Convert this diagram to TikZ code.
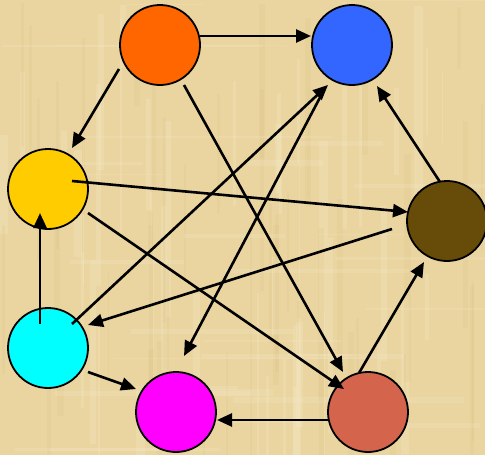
\documentclass[tikz,border=0pt]{standalone}
\usetikzlibrary{arrows.meta,calc}
\definecolor{parch}{HTML}{EAD5A0}
\definecolor{parchdark}{HTML}{D9C083}
\definecolor{parchlight}{HTML}{F6EACB}
\definecolor{cOrange}{HTML}{FF6600}
\definecolor{cBlue}{HTML}{3366FF}
\definecolor{cYellow}{HTML}{FFCC00}
\definecolor{cBrown}{HTML}{664C08}
\definecolor{cCyan}{HTML}{00FFFF}
\definecolor{cMagenta}{HTML}{FF00FF}
\definecolor{cSalmon}{HTML}{D4644C}
\begin{document}
\begin{tikzpicture}[x=1pt,y=-1pt,
  ball/.style={circle,draw=black,line width=1.8pt,minimum size=80pt,inner sep=0pt},
  link/.style={line width=2.6pt,-{Triangle[length=15pt,width=13pt]}}]
\useasboundingbox (0,0) rectangle (485,455);
% parchment background
\fill[parch] (0,0) rectangle (485,455);
\pgfmathsetseed{11}
\foreach \i in {1,...,45}{
  \pgfmathsetmacro\xa{rnd*485}
  \pgfmathsetmacro\wd{1+rnd*8}
  \pgfmathsetmacro\ya{rnd*400}
  \pgfmathsetmacro\ht{60+rnd*200}
  \fill[parchlight,opacity=0.25] (\xa,\ya) rectangle ++(\wd,\ht);
}
\foreach \i in {1,...,45}{
  \pgfmathsetmacro\xa{rnd*485}
  \pgfmathsetmacro\wd{1+rnd*6}
  \pgfmathsetmacro\ya{rnd*400}
  \pgfmathsetmacro\ht{60+rnd*200}
  \fill[parchdark,opacity=0.18] (\xa,\ya) rectangle ++(\wd,\ht);
}
\foreach \i in {1,...,30}{
  \pgfmathsetmacro\ya{rnd*455}
  \pgfmathsetmacro\ht{1+rnd*6}
  \pgfmathsetmacro\xa{rnd*400}
  \pgfmathsetmacro\wd{60+rnd*200}
  \fill[parchlight,opacity=0.22] (\xa,\ya) rectangle ++(\wd,\ht);
}
% nodes
\node[ball,fill=cOrange]  (orangeball)  at (160,45)  {};
\node[ball,fill=cBlue]    (blueball)    at (352,45)  {};
\node[ball,fill=cYellow]  (yellowball)  at (48,189)  {};
\node[ball,fill=cBrown]   (brownball)   at (447,221) {};
\node[ball,fill=cCyan]    (cyanball)    at (48,348)  {};
\node[ball,fill=cMagenta] (magentaball) at (176,412) {};
\node[ball,fill=cSalmon]  (salmonball)  at (368,412) {};
% connectors
\draw[link] ($(orangeball)+(40,-9)$)  -- ($(blueball)+(-41,-9)$);
\draw[link] ($(orangeball)+(-41,24)$) -- ($(yellowball)+(24,-41)$);
\draw[link] ($(orangeball)+(24,40)$)  -- ($(salmonball)+(-25,-40)$);
\draw[link] ($(yellowball)+(24,-8)$)  -- ($(brownball)+(-39,-9)$);
\draw[link] ($(yellowball)+(40,24)$)  -- ($(salmonball)+(-24,-23)$);
\draw[link] ($(cyanball)+(-8,-24)$)   -- ($(yellowball)+(-8,24)$);
\draw[link] ($(cyanball)+(24,-24)$)   -- ($(blueball)+(-24,40)$);
\draw[link] ($(brownball)+(-55,8)$)   -- ($(cyanball)+(40,-23)$);
\draw[link] ($(brownball)+(-7,-39)$)  -- ($(blueball)+(25,41)$);
\draw[link] ($(salmonball)+(-9,-39)$) -- ($(brownball)+(-23,41)$);
\draw[link] ($(salmonball)+(-40,8)$)  -- ($(magentaball)+(41,8)$);
\draw[link] ($(cyanball)+(40,24)$)    -- ($(magentaball)+(-40,-23)$);
\draw[link] ($(blueball)+(-27,43)$)   -- ($(magentaball)+(8,-56)$);
\end{tikzpicture}
\end{document}
